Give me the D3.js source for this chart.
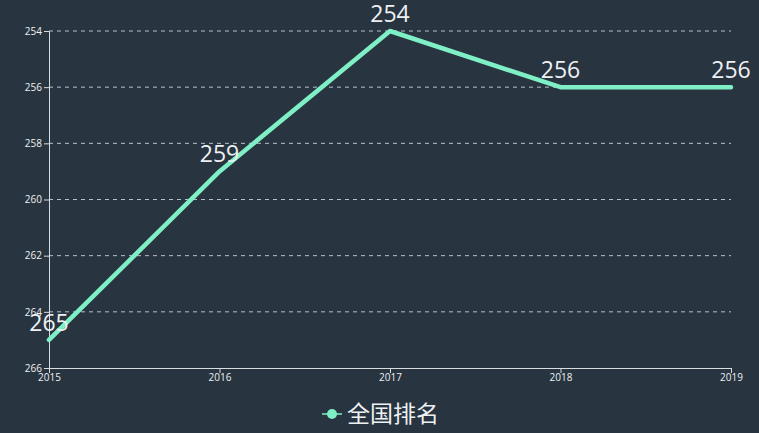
<!DOCTYPE html>
<html>
<head>
<meta charset="utf-8">
<script src="https://cdn.jsdelivr.net/npm/d3@7"></script>
<style>
  body { margin: 0; background: #283440; }
  svg { display: block; }
</style>
</head>
<body>
<svg></svg>
<script>
const years = ['2015', '2016', '2017', '2018', '2019'];
const ranks = [265, 259, 254, 256, 256];
const yTicks = [254, 256, 258, 260, 262, 264, 266];
const seriesName = '全国排名';

const W = 759, H = 433;
const margins = {t: 31, r: 28, b: 65, l: 49};
const size = {w: W - margins.l - margins.r, h: H - margins.t - margins.b};
const lineColor = '#7ff0c6';
const numFont = '"Open Sans", "Noto Sans", sans-serif';

const svg = d3.select('svg').attr('width', W).attr('height', H);
svg.append('rect').attr('width', W).attr('height', H).attr('fill', '#283440');

const g = svg.append('g').attr('transform', `translate(${margins.l}, ${margins.t})`);

const scaleX = d3.scalePoint().domain(years).range([0, size.w]);
const scaleY = d3.scaleLinear().domain([254, 266]).range([0, size.h]);

// grid lines
g.selectAll('line.grid')
  .data(yTicks.filter(d => d !== 266))
  .join('line')
  .attr('class', 'grid')
  .attr('x1', 0).attr('x2', size.w)
  .attr('y1', d => scaleY(d)).attr('y2', d => scaleY(d))
  .attr('stroke', '#b8c0c8')
  .attr('stroke-width', 1)
  .attr('stroke-dasharray', '4,4');

const axisY = d3.axisLeft(scaleY).tickValues(yTicks).tickSize(5).tickPadding(2);
const axisYG = g.append('g').call(axisY);
axisYG.select('.domain').attr('stroke', '#d8dde2');
axisYG.selectAll('.tick line').attr('stroke', '#d8dde2');
axisYG.selectAll('text').attr('fill', '#eef1f3').style('font-size', '10px').style('font-family', numFont);

const axisX = d3.axisBottom(scaleX).tickSize(5).tickPadding(1);
const axisXG = g.append('g').attr('transform', `translate(0, ${size.h})`).call(axisX);
axisXG.select('.domain').attr('stroke', '#d8dde2');
axisXG.selectAll('.tick line').attr('stroke', '#d8dde2');
axisXG.selectAll('text').attr('fill', '#eef1f3').style('font-size', '10px').style('font-family', numFont);

const line = d3.line().x((d, i) => scaleX(years[i])).y(d => scaleY(d));
g.append('path')
  .datum(ranks)
  .attr('d', line)
  .attr('fill', 'none')
  .attr('stroke', lineColor)
  .attr('stroke-width', 4.5)
  .attr('stroke-linejoin', 'round')
  .attr('stroke-linecap', 'round');

g.selectAll('text.label')
  .data(ranks)
  .join('text')
  .attr('class', 'label')
  .attr('x', (d, i) => scaleX(years[i]))
  .attr('y', d => scaleY(d) - 9)
  .attr('text-anchor', 'middle')
  .attr('fill', '#eef1f3')
  .style('font-size', '23px')
  .style('font-family', numFont)
  .text(d => d);

// legend
const legend = svg.append('g').attr('transform', 'translate(322, 414)');
legend.append('line').attr('x1', 0).attr('x2', 20).attr('y1', 0).attr('y2', 0)
  .attr('stroke', lineColor).attr('stroke-width', 1.5);
legend.append('circle').attr('cx', 10).attr('cy', 0).attr('r', 5).attr('fill', lineColor);
legend.append('text').attr('x', 25).attr('y', 0).attr('dy', '0.36em')
  .attr('fill', '#eef1f3')
  .style('font-size', '23px')
  .style('font-family', '"Noto Sans CJK SC", sans-serif')
  .text(seriesName);
</script>
</body>
</html>
